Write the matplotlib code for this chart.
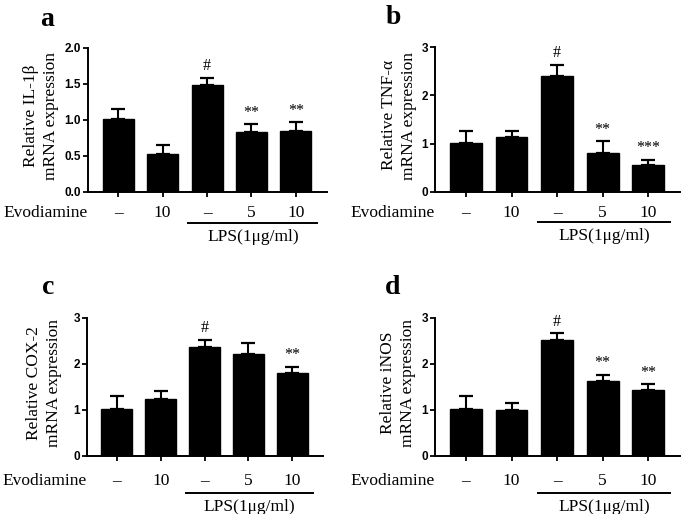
import matplotlib
matplotlib.use("Agg")
import matplotlib.pyplot as plt
import numpy as np

groups = ["–", "10", "–", "5", "10"]
row_label = "Evodiamine"
lps_label = "LPS(1μg/ml)"

il1b = [1.01, 0.53, 1.48, 0.83, 0.85]
il1b_err = [0.14, 0.12, 0.11, 0.11, 0.12]
tnfa = [1.02, 1.13, 2.39, 0.81, 0.55]
tnfa_err = [0.24, 0.14, 0.24, 0.24, 0.12]
cox2 = [1.02, 1.24, 2.36, 2.21, 1.81]
cox2_err = [0.28, 0.17, 0.17, 0.24, 0.13]
inos = [1.02, 1.00, 2.52, 1.63, 1.44]
inos_err = [0.28, 0.16, 0.15, 0.14, 0.12]

il1b_sig = ["", "", "#", "**", "**"]
tnfa_sig = ["", "", "#", "**", "***"]
cox2_sig = ["", "", "#", "", "**"]
inos_sig = ["", "", "#", "**", "**"]

W, H = 685, 514
fig = plt.figure(figsize=(W / 100, H / 100), dpi=100)

serif = ["Liberation Serif", "DejaVu Serif"]
sans = ["Liberation Sans", "DejaVu Sans"]

panels = [
    ("a", il1b, il1b_err, il1b_sig, "Relative IL-1β\nmRNA expression", 2.0, [0, 0.5, 1.0, 1.5, 2.0], "{:.1f}",
     (88, 327, 48, 192), (47, 19), 41, (21, 31, 45)),
    ("b", tnfa, tnfa_err, tnfa_sig, "Relative TNF-α\nmRNA expression", 3.0, [0, 1, 2, 3], "{:d}",
     (435, 680, 47, 192), (393, 17), 399, (21, 30, 44)),
    ("c", cox2, cox2_err, cox2_sig, "Relative COX-2\nmRNA expression", 3.0, [0, 1, 2, 3], "{:d}",
     (87, 323, 318, 456), (48, 287), 44, (25, 37, 51)),
    ("d", inos, inos_err, inos_sig, "Relative iNOS\nmRNA expression", 3.0, [0, 1, 2, 3], "{:d}",
     (435, 680, 318, 456), (393, 287), 398, (25, 37, 51)),
]

for (letter, vals, errs, sig, ylab, ymax, yticks, fmt, box, lpos, ylx, offs) in panels:
    l, r, t, b = box
    ax = fig.add_axes([l / W, 1 - b / H, (r - l) / W, (b - t) / H])
    x = np.arange(len(vals))
    ax.bar(x, vals, width=0.7, color="black", edgecolor="black", zorder=2)
    ax.errorbar(x, vals, yerr=[np.zeros(len(vals)), errs], fmt="none", ecolor="black",
                elinewidth=1.5, capsize=5.2, capthick=1.6, zorder=1)
    ax.set_xlim(-0.68, 4.7)
    ax.set_ylim(0, ymax)
    ax.set_yticks(yticks)
    ax.set_yticklabels([fmt.format(v) if fmt == "{:.1f}" else fmt.format(int(v)) for v in yticks],
                       fontfamily=sans, fontweight="bold", fontsize=8.5)
    ax.set_xticks(x)
    ax.set_xticklabels([])
    ax.tick_params(axis="both", direction="out", length=3.5, width=1.3, pad=1.5)
    for s in ["top", "right"]:
        ax.spines[s].set_visible(False)
    for s in ["left", "bottom"]:
        ax.spines[s].set_linewidth(1.4)

    row_off, line_off, lps_off = offs
    for xi, g in zip(x, groups):
        ax.annotate(g, xy=(xi, 0), xycoords=("data", "axes fraction"),
                    xytext=(0, -row_off * 0.72), textcoords="offset points",
                    ha="center", va="center", fontfamily=serif, fontsize=12.5)
    ax.annotate(row_label, xy=(0, 0), xycoords="axes fraction",
                xytext=(0, -row_off * 0.72), textcoords="offset points",
                ha="right", va="center", fontfamily=serif, fontsize=12.5)
    y_line = -line_off / (b - t)
    ax.plot([1.58, 4.48], [y_line, y_line], transform=ax.get_xaxis_transform(),
            color="black", lw=1.4, clip_on=False)
    ax.annotate(lps_label, xy=(3.03, 0), xycoords=("data", "axes fraction"),
                xytext=(0, -lps_off * 0.72), textcoords="offset points",
                ha="center", va="center", fontfamily=serif, fontsize=12.5)

    for xi, v, e, s in zip(x, vals, errs, sig):
        if s:
            ax.annotate(s, xy=(xi, v + e), xycoords="data", xytext=(0, 2.5),
                        textcoords="offset points", ha="center", va="bottom",
                        fontfamily=serif, fontsize=11.5)

    fig.text(ylx / W, 1 - ((t + b) / 2 - 4) / H, ylab, rotation=90, ha="center", va="center",
             fontfamily=serif, fontsize=12.5, linespacing=1.3, multialignment="center")
    fig.text(lpos[0] / W, 1 - lpos[1] / H, letter, ha="center", va="center",
             fontfamily=serif, fontweight="bold", fontsize=20)

fig.savefig("out.png", dpi=100)
